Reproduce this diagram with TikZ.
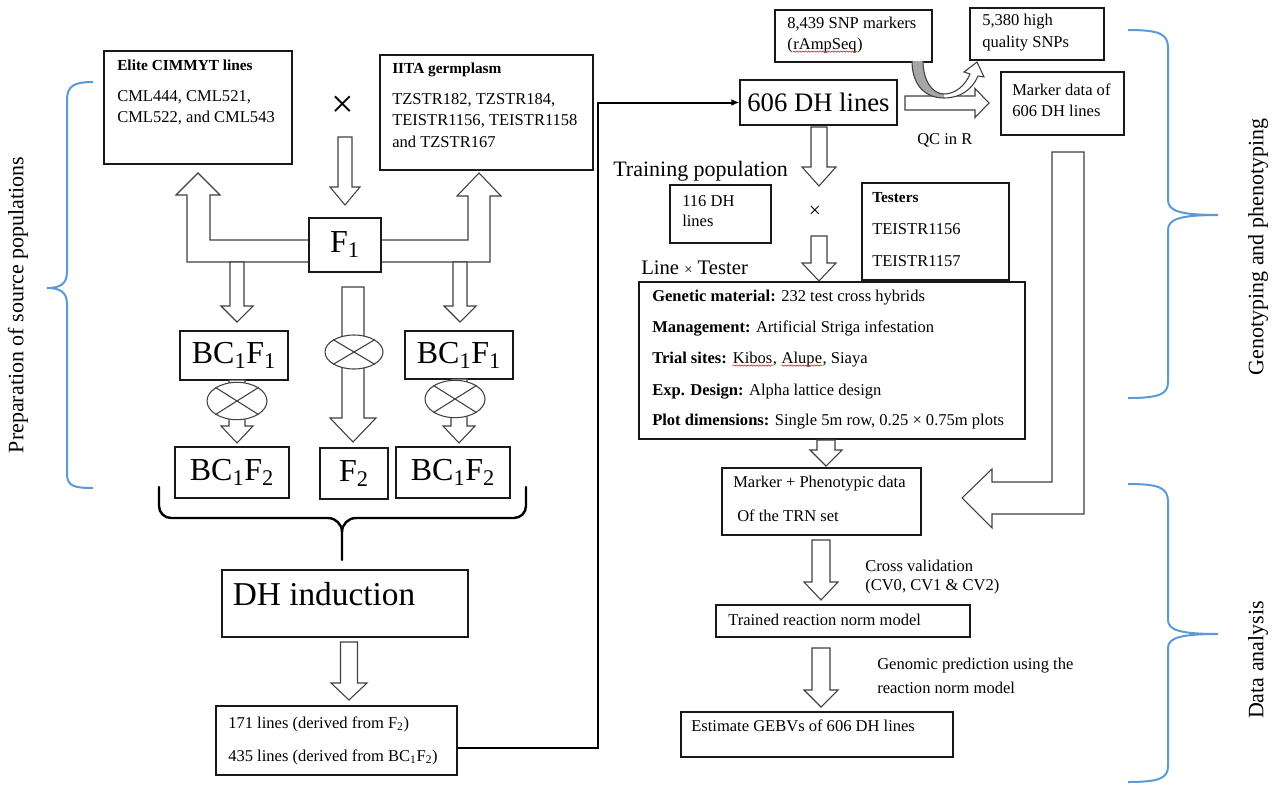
\documentclass[tikz,border=0pt]{standalone}
\usepackage{fontspec}
\setmainfont{Liberation Serif}
\usetikzlibrary{shapes.geometric,arrows.meta,fit,decorations.pathmorphing}

\definecolor{bracecol}{RGB}{91,155,213}
\newcommand{\fsz}[1]{\fontsize{#1}{#1}\selectfont}
\newcommand{\spellerr}[1]{\tikz[baseline=(sw.base)]{\node[inner sep=0pt] (sw) {#1};
  \draw[red, line width=0.4pt, decorate, decoration={snake, amplitude=0.5pt, segment length=2.2pt}]
    ([yshift=-1.2pt]sw.base west) -- ([yshift=-1.2pt]sw.base east);}}
% hollow block arrows: x, top, bottom, head start, shaft half, head half
\newcommand{\downblk}[6]{%
  \draw[blk] ({#1-#5},#2) -- ({#1+#5},#2) -- ({#1+#5},#4) -- ({#1+#6},#4) -- (#1,#3)
    -- ({#1-#6},#4) -- ({#1-#5},#4) -- cycle;}
% y, left, right, head start, shaft half, head half
\newcommand{\rightblk}[6]{%
  \draw[blk] (#2,{#1-#5}) -- (#4,{#1-#5}) -- (#4,{#1-#6}) -- (#3,#1) -- (#4,{#1+#6})
    -- (#4,{#1+#5}) -- (#2,{#1+#5}) -- cycle;}

\begin{document}
\begin{tikzpicture}[x=0.75pt, y=-0.75pt,
  box/.style={draw=black!90, line width=0.8pt, inner sep=0pt, fill=white},
  blk/.style={draw=black!75, line width=0.8pt, fill=white},
  txt/.style={inner sep=0pt, anchor=west, font=\fsz{12.4}},
  ttl/.style={txt, font=\fsz{11.5}\bfseries},
  big/.style={inner sep=0pt, font=\fsz{24}},
  selfing/.style={ellipse, draw=black!75, fill=white, line width=0.8pt, inner sep=0pt},
  brc/.style={draw=bracecol, line width=1.5pt},
  bracket/.style={line width=1.8pt, line cap=round},
  conn/.style={line width=1.5pt, -{Latex[length=6pt,width=5pt]}},
  side/.style={rotate=90, inner sep=0pt, font=\fsz{16.5}}]

  \useasboundingbox (0,0) rectangle (1282,785);

  % side braces and labels
  \draw[brc] (93,82) .. controls (74,82) and (67,86) .. (67,100) -- (67,272)
    .. controls (67,284) and (60,288) .. (47,288) .. controls (60,288) and (67,292) .. (67,304)
    -- (67,474) .. controls (67,486) and (74,488) .. (93,488);
  \node[side] (prep) at (18,305) {Preparation of source populations};
  \draw[brc] (1128,30) .. controls (1160,30) and (1168,34) .. (1168,48) -- (1168,200)
    .. controls (1168,211) and (1180,215) .. (1218,215) .. controls (1180,215) and (1168,219) .. (1168,230)
    -- (1168,382) .. controls (1168,394) and (1160,398) .. (1128,398);
  \node[side] (geno) at (1258,247) {Genotyping and phenotyping};
  \draw[brc] (1128,484) .. controls (1160,484) and (1168,488) .. (1168,502) -- (1168,620)
    .. controls (1168,630) and (1180,634) .. (1218,634) .. controls (1180,634) and (1168,638) .. (1168,648)
    -- (1168,766) .. controls (1168,778) and (1160,782) .. (1128,782);
  \node[side] (data) at (1258,660) {Data analysis};

  % parents
  \node[box, fit={(104,51) (292,164)}] (elite) {};
  \node[ttl] (eliteT) at (117,65) {Elite CIMMYT lines};
  \node[txt] (elite1) at (117,97) {CML444, CML521,};
  \node[txt] (elite2) at (117,118) {CML522, and CML543};
  \node[box, fit={(380,55) (593,170)}] (iita) {};
  \node[ttl] (iitaT) at (392,70) {IITA germplasm};
  \node[txt] (iita1) at (392,100) {TZSTR182, TZSTR184,};
  \node[txt] (iita2) at (392,121) {TEISTR1156, TEISTR1158};
  \node[txt] (iita3) at (392,142) {and TZSTR167};
  \node[inner sep=0pt, font=\fsz{30}] (cross) at (343,107) {×};
  \downblk{345}{137}{205}{187}{7}{15}

  % F1 and backcrosses
  \draw[blk] (309,240) -- (210,240) -- (210,195) -- (220,195) -- (198,173) -- (176,195)
    -- (187,195) -- (187,262) -- (309,262);
  \draw[blk] (381,240) -- (468,240) -- (468,196) -- (457,196) -- (479,173) -- (501,196)
    -- (490,196) -- (490,262) -- (381,262);
  \node[box, fit={(309,218) (381,272)}] (f1) {};
  \node[big] (f1lab) at (f1) {F\textsubscript{1}};
  \downblk{237}{262}{322}{306}{7}{16}
  \downblk{460}{262}{322}{306}{7}{16}
  \downblk{353}{287}{442}{418}{11}{23}
  \node[selfing, minimum width=43.5pt, minimum height=25.5pt] (selfm) at (354,352) {};
  \draw[black!75, line width=0.8pt] (selfm.north east) -- (selfm.south west) (selfm.north west) -- (selfm.south east);

  \node[box, fit={(180,331) (288,380)}] (bcf1l) {};
  \node[big] (bcf1llab) at (bcf1l) {BC\textsubscript{1}F\textsubscript{1}};
  \node[box, fit={(405,331) (513,379)}] (bcf1r) {};
  \node[big] (bcf1rlab) at (bcf1r) {BC\textsubscript{1}F\textsubscript{1}};
  \downblk{237}{380}{443}{426}{8}{16}
  \downblk{459}{379}{443}{426}{8}{16}
  \node[selfing, minimum width=45pt, minimum height=28pt] (selfl) at (237,401) {};
  \draw[black!75, line width=0.8pt] (selfl.north east) -- (selfl.south west) (selfl.north west) -- (selfl.south east);
  \node[selfing, minimum width=45pt, minimum height=28pt] (selfr) at (455,399) {};
  \draw[black!75, line width=0.8pt] (selfr.north east) -- (selfr.south west) (selfr.north west) -- (selfr.south east);

  \node[box, fit={(175,447) (289,498)}] (bcf2l) {};
  \node[big] (bcf2llab) at (bcf2l) {BC\textsubscript{1}F\textsubscript{2}};
  \node[box, fit={(320,448) (388,499)}] (f2) {};
  \node[big] (f2lab) at (f2) {F\textsubscript{2}};
  \node[box, fit={(396,447) (510,498)}] (bcf2r) {};
  \node[big] (bcf2rlab) at (bcf2r) {BC\textsubscript{1}F\textsubscript{2}};

  % bracket to DH induction
  \draw[bracket] (159,487) -- (159,506) to[out=-90,in=180] (171,518) -- (328,518)
    to[out=0,in=90] (342,532) -- (342,560);
  \draw[bracket] (526,487) -- (526,506) to[out=-90,in=0] (514,518) -- (356,518)
    to[out=180,in=90] (342,532);
  \node[box, fit={(222,570) (468,637)}] (dhind) {};
  \node[inner sep=0pt, font=\fsz{25}] (dhindlab) at (324,594) {DH induction};
  \downblk{349}{642}{700}{683}{8.5}{18}
  \node[box, fit={(216,706) (457,775)}] (derived) {};
  \node[txt] (der1) at (228,724) {171 lines (derived from F\textsubscript{2})};
  \node[txt] (der2) at (228,757) {435 lines (derived from BC\textsubscript{1}F\textsubscript{2})};

  % genotyping
  \node[box, fit={(740,80) (897,125)}] (dh606) {};
  \node[inner sep=0pt, font=\fsz{20}] (dh606lab) at (dh606) {606 DH lines};
  \draw[conn] ([yshift=-5.6pt]derived.east) -- ++(140,0) |- (dh606.west);
  \node[box, fit={(775,10) (932,62)}] (snp) {};
  \node[txt] (snp1) at (787,24) {8,439 SNP markers};
  \node[txt] (snp2) at (787,46) {(\spellerr{rAmpSeq})};
  \node[box, fit={(970,8) (1104,60)}] (hq) {};
  \node[txt] (hq1) at (982,22) {5,380 high};
  \node[txt] (hq2) at (982,44) {quality SNPs};
  \node[box, fit={(1001,72) (1124,135)}] (markdata) {};
  \node[txt] (md1) at (1012,90) {Marker data of};
  \node[txt] (md2) at (1012,111) {606 DH lines};
  \rightblk{103}{905}{989}{975}{7}{14.5}
  \fill[white] (912,61) .. controls (912,86) and (926,98) .. (944,98) .. controls (960,98) and (972,90) .. (978,76)
    -- (984,77) -- (977,62) -- (964,72) -- (970,74) .. controls (965,86) and (955,94) .. (944,94)
    .. controls (932,94) and (923,80) .. (923,61) -- cycle;
  \fill[black!35] (912,61) .. controls (912,86) and (926,98) .. (944,98) -- (944,94)
    .. controls (932,94) and (923,80) .. (923,61) -- cycle;
  \draw[black!75, line width=0.8pt] (912,61) .. controls (912,86) and (926,98) .. (944,98) .. controls (960,98) and (972,90) .. (978,76)
    -- (984,77) -- (977,62) -- (964,72) -- (970,74) .. controls (965,86) and (955,94) .. (944,94)
    .. controls (932,94) and (923,80) .. (923,61);
  \node[txt] (qc) at (917,140) {QC in R};

  % training population and testcrosses
  \node[txt, font=\fsz{16.5}] (trainpop) at (613,171) {Training population};
  \downblk{819}{127}{186}{167}{8}{17}
  \node[box, fit={(670,185) (771,243)}] (dh116) {};
  \node[txt] (dh116a) at (682,201) {116 DH};
  \node[txt] (dh116b) at (682,221) {lines};
  \node[inner sep=0pt, font=\fsz{16}] (cross2) at (815,212) {×};
  \node[box, fit={(862,183) (1009,280)}] (testers) {};
  \node[ttl] (testT) at (872,198) {Testers};
  \node[txt] (t1156) at (872,229) {TEISTR1156};
  \node[txt] (t1157) at (872,261) {TEISTR1157};
  \downblk{819}{236}{281}{263}{8}{17}
  \node[txt, font=\fsz{15.5}] (lxt) at (641,268) {Line {\fsz{11}×} Tester};
  \node[box, fit={(639,282) (1025,439)}] (design) {};
  \node[txt] (gm) at (652,298) {\textbf{Genetic material:} 232 test cross hybrids};
  \node[txt] (mg) at (652,329) {\textbf{Management:} Artificial Striga infestation};
  \node[txt] (ts) at (652,360) {\textbf{Trial sites:} \spellerr{Kibos}, \spellerr{Alupe}, Siaya};
  \node[txt] (ed) at (652,392) {\textbf{Exp. Design:} Alpha lattice design};
  \node[txt] (pd) at (652,422) {\textbf{Plot dimensions:} Single 5m row, 0.25 × 0.75m plots};
  \downblk{826}{440}{466}{450}{9}{16}

  % data analysis
  \draw[blk] (1052,152) -- (1084,152) -- (1084,514) -- (992,514) -- (992,528) -- (962,498)
    -- (992,469) -- (992,482) -- (1052,482) -- cycle;
  \node[box, fit={(722,468) (921,535)}] (markpheno) {};
  \node[txt] (mp1) at (733,484) {Marker + Phenotypic data};
  \node[txt] (mp2) at (737,516) {Of the TRN set};
  \downblk{821}{540}{600}{582}{9}{17}
  \node[txt] (cv1) at (865,566) {Cross validation};
  \node[txt] (cv2) at (865,587) {(CV0, CV1 \& CV2)};
  \node[box, fit={(716,605) (970,637)}] (trained) {};
  \node[txt] (trainedlab) at (728,620) {Trained reaction norm model};
  \downblk{821}{648}{707}{690}{9}{17}
  \node[txt] (gp1) at (877,666) {Genomic prediction using the};
  \node[txt] (gp2) at (877,688) {reaction norm model};
  \node[box, fit={(681,712) (953,757)}] (gebv) {};
  \node[txt] (gebvlab) at (691,726) {Estimate GEBVs of 606 DH lines};

\end{tikzpicture}
\end{document}
